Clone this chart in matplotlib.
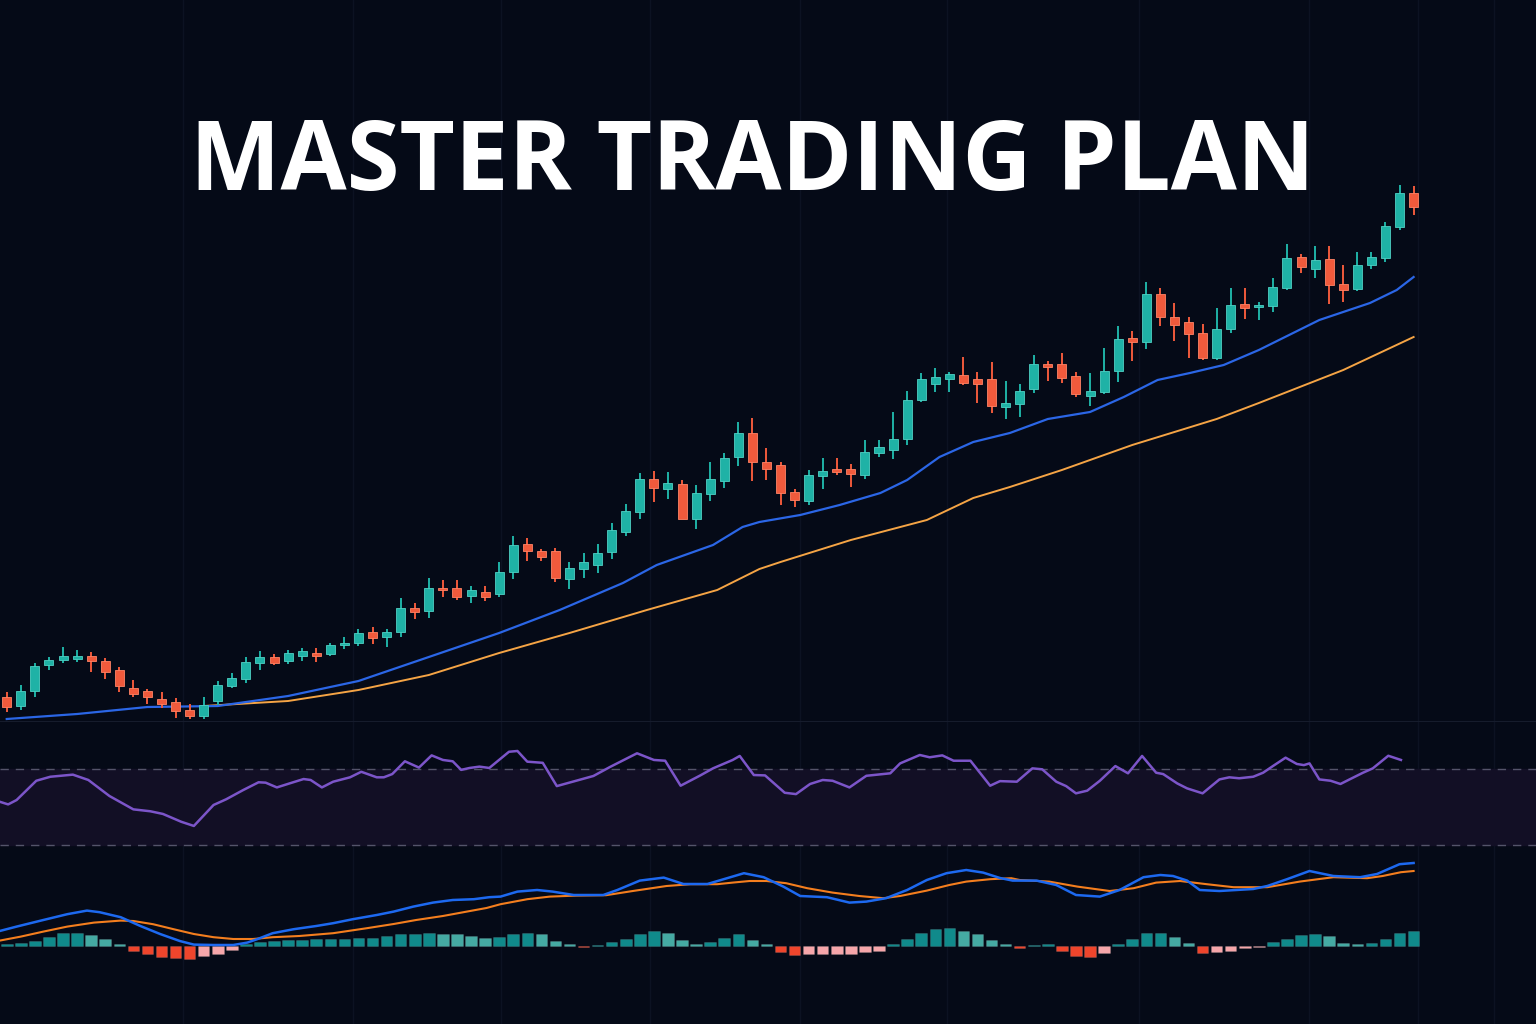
import numpy as np
import matplotlib.pyplot as plt

# ---- price candles (one per bar) ----
opens = [102.3, 101.4, 102.9, 105.5, 106.0, 106.1, 106.4, 105.9, 105.0, 103.2,
         102.9, 102.1, 101.8, 101.0, 100.4, 101.9, 103.4, 104.1, 105.7, 106.3,
         105.9, 106.4, 106.7, 106.6, 107.5, 107.7, 108.8, 108.3, 108.8, 111.2,
         110.9, 113.2, 113.2, 112.4, 112.8, 112.6, 114.8, 117.6, 116.9, 116.9,
         114.1, 115.1, 115.5, 116.8, 118.8, 120.8, 124.1, 123.1, 123.6, 120.1,
         122.6, 123.9, 126.3, 128.7, 125.8, 125.5, 122.8, 121.9, 124.4, 125.1,
         125.1, 124.5, 126.7, 127.0, 128.1, 132.0, 133.6, 134.1, 134.5, 134.1,
         134.1, 131.3, 131.6, 133.1, 135.6, 135.6, 134.4, 132.4, 132.8, 134.9,
         138.2, 137.8, 142.6, 140.3, 139.8, 138.7, 136.2, 139.1, 141.6, 141.3,
         141.4, 143.2, 146.3, 145.1, 146.1, 143.6, 143.1, 145.5, 146.2, 149.3,
         152.7]
highs = [102.8, 103.5, 105.7, 106.3, 107.3, 107.0, 106.8, 106.2, 105.3, 104.0,
         103.1, 102.8, 102.2, 101.6, 102.3, 103.9, 104.7, 106.3, 106.9, 106.6,
         107.0, 107.2, 107.2, 107.7, 108.3, 109.1, 109.3, 109.1, 112.2, 111.7,
         114.2, 114.0, 114.0, 113.4, 113.4, 115.8, 118.4, 118.2, 117.1, 117.2,
         115.8, 116.7, 117.6, 119.7, 121.6, 124.7, 124.9, 124.8, 124.0, 123.5,
         125.8, 126.7, 129.8, 130.2, 127.2, 125.8, 123.1, 125.0, 126.2, 126.2,
         125.6, 128.0, 128.0, 130.8, 132.9, 134.7, 135.2, 134.8, 136.3, 134.8,
         135.8, 133.9, 133.6, 136.5, 135.9, 136.7, 134.8, 134.7, 137.2, 139.4,
         138.9, 143.8, 143.2, 141.7, 140.3, 139.6, 141.2, 143.2, 143.2, 141.8,
         144.2, 147.6, 146.6, 147.4, 147.4, 145.5, 146.8, 146.8, 149.8, 153.5,
         153.4]
lows = [100.8, 101.0, 102.3, 105.0, 105.7, 105.8, 104.8, 104.1, 102.8, 102.3,
        101.6, 101.2, 100.2, 100.1, 100.1, 101.5, 103.2, 103.7, 105.0, 105.5,
        105.6, 105.9, 105.8, 106.4, 107.1, 107.4, 107.6, 107.3, 108.3, 110.1,
        110.2, 112.3, 112.0, 111.7, 111.9, 112.3, 114.1, 115.9, 115.9, 113.8,
        113.1, 114.2, 114.7, 116.1, 118.4, 120.1, 121.8, 122.1, 120.1, 119.1,
        121.9, 123.2, 125.4, 123.9, 124.0, 121.5, 121.3, 121.5, 123.1, 124.5,
        123.3, 124.1, 126.3, 126.1, 127.5, 131.8, 132.8, 132.8, 133.5, 131.7,
        130.7, 130.1, 130.3, 132.7, 133.9, 133.7, 132.3, 131.4, 132.6, 133.8,
        135.9, 137.1, 139.4, 137.9, 136.2, 136.0, 136.0, 138.7, 140.1, 140.0,
        140.8, 143.0, 144.7, 144.2, 141.6, 141.8, 142.9, 145.1, 145.8, 149.0,
        150.5]
closes = [101.3, 102.9, 105.4, 106.0, 106.4, 106.4, 105.9, 104.8, 103.4, 102.6,
          102.3, 101.6, 100.9, 100.4, 101.5, 103.5, 104.2, 105.8, 106.3, 105.7,
          106.7, 106.9, 106.4, 107.5, 107.7, 108.7, 108.2, 108.8, 111.2, 110.8,
          113.2, 113.0, 112.3, 113.0, 112.3, 114.8, 117.5, 116.9, 116.3, 114.2,
          115.2, 115.8, 116.7, 119.0, 120.9, 124.1, 123.2, 123.7, 120.1, 122.7,
          124.1, 126.2, 128.7, 125.8, 125.1, 122.7, 122.0, 124.5, 124.9, 124.8,
          124.6, 126.8, 127.3, 128.1, 132.0, 134.1, 134.3, 134.6, 133.7, 133.6,
          131.4, 131.7, 132.9, 135.6, 135.3, 134.2, 132.6, 132.9, 134.9, 138.1,
          137.8, 142.6, 140.3, 139.5, 138.6, 136.2, 139.1, 141.5, 141.2, 141.5,
          143.3, 146.2, 145.3, 146.0, 143.5, 143.0, 145.5, 146.3, 149.4, 152.7,
          151.3]

# ---- moving averages (bar position, value) ----
ma_fast_idx = [0, 5, 10, 15, 20, 25, 30, 35, 39.3, 43.8, 46.2, 50.2, 52.3, 53.5,
               56.4, 59.2, 62.1, 64.0, 66.3, 68.7, 71.3, 74.0, 77.0, 79.4, 81.8,
               84.1, 86.5, 89.0, 93.3, 96.9, 98.8, 100]
ma_fast = [100.1, 100.6, 101.3, 101.4, 102.4, 103.9, 106.3, 108.7, 111.0, 113.7,
           115.5, 117.5, 119.3, 119.8, 120.5, 121.5, 122.7, 124.0, 126.3, 127.8,
           128.7, 130.1, 130.8, 132.3, 134.0, 134.7, 135.5, 137.0, 140.0, 141.7,
           143.0, 144.3]
ma_slow_idx = [14, 20, 25, 30, 35, 40, 45.5, 50.5, 53.5, 55, 60, 65.4, 68.7, 71.3,
               75, 80, 86, 89, 95, 100]
ma_slow = [101.4, 101.9, 103.0, 104.5, 106.7, 108.7, 111.0, 113.0, 115.1, 115.8,
           118.0, 120.0, 122.2, 123.3, 125.0, 127.5, 130.1, 131.7, 135.0, 138.3]

# ---- RSI ----
rsi_idx = [-0.5, 0.1, 0.7, 2.1, 3.1, 4.7, 5.8, 7.3, 9.0, 10.2,
           11.1, 12.4, 13.3, 14.7, 15.6, 16.8, 17.9, 18.4, 19.2, 20.1,
           21.1, 21.6, 22.4, 23.2, 24.4, 25.2, 26.3, 26.8, 27.4, 28.3,
           29.3, 30.2, 31.0, 31.7, 32.3, 32.9, 33.6, 34.3, 35.7, 36.3,
           37.0, 38.1, 39.1, 41.7, 42.9, 44.8, 46.0, 46.8, 47.9, 49.3,
           50.2, 51.6, 52.1, 53.1, 53.9, 55.3, 56.1, 57.1, 58.0, 58.7,
           59.9, 61.1, 62.8, 63.5, 64.9, 65.6, 66.5, 67.3, 68.5, 69.9,
           70.6, 71.8, 72.9, 73.6, 74.6, 75.3, 76.0, 76.8, 77.7, 78.8,
           79.7, 80.7, 81.7, 82.2, 83.2, 83.9, 85.0, 86.2, 86.9, 87.6,
           88.6, 89.3, 90.0, 90.9, 91.7, 92.2, 92.6, 93.3, 94.1, 94.8,
           95.5, 96.4, 97.1, 98.2, 99.1]
rsi = [52.7, 51.3, 53.6, 63.7, 65.8, 66.9, 64.1, 55.7, 48.7, 47.7,
       46.3, 42.2, 40.0, 51.0, 54.0, 58.8, 62.9, 62.7, 60.2, 62.3,
       64.6, 64.1, 60.2, 63.2, 65.5, 68.4, 65.5, 65.5, 67.2, 73.9,
       70.6, 77.0, 74.6, 73.9, 69.4, 70.4, 71.1, 70.4, 78.9, 79.3,
       73.7, 73.1, 60.9, 66.2, 71.0, 78.1, 74.6, 74.2, 61.1, 66.5,
       70.2, 74.6, 76.7, 66.7, 66.5, 57.4, 56.7, 62.0, 64.1, 63.7,
       60.2, 66.3, 67.6, 72.8, 77.2, 76.0, 77.0, 74.2, 74.2, 61.1,
       63.5, 63.2, 70.2, 69.7, 63.2, 60.9, 57.1, 58.5, 63.7, 71.4,
       67.6, 76.7, 67.9, 67.2, 62.3, 59.7, 57.1, 64.4, 65.5, 65.0,
       65.8, 67.9, 71.4, 75.8, 72.5, 71.9, 72.8, 64.4, 63.7, 62.0,
       64.6, 67.9, 70.2, 76.8, 74.6]

# ---- MACD ----
macd_idx = [-0.5, 0.7, 2.6, 4.3, 5.7, 6.6, 8.1, 9.5, 10.9, 12.3,
            13.3, 14.7, 16.1, 17.1, 17.8, 18.9, 20.4, 22.0, 23.2, 24.6,
            26.3, 27.5, 28.9, 30.3, 31.7, 33.2, 34.3, 35.1, 36.3, 37.7,
            38.8, 40.3, 42.4, 43.4, 45.0, 46.7, 48.1, 49.8, 51.2, 52.4,
            53.8, 55.2, 56.4, 58.3, 59.9, 61.1, 62.5, 64.0, 65.4, 66.8,
            68.2, 69.4, 70.6, 71.5, 73.2, 74.6, 76.0, 77.7, 79.1, 80.8,
            82.0, 82.9, 83.9, 84.8, 86.2, 88.6, 89.6, 91.0, 92.6, 94.3,
            96.2, 97.4, 99.0, 100.0]
macd = [0.75, 0.97, 1.30, 1.59, 1.77, 1.69, 1.44, 1.00, 0.60, 0.25,
        0.07, 0.05, 0.05, 0.17, 0.34, 0.64, 0.84, 1.00, 1.14, 1.34,
        1.55, 1.72, 1.97, 2.17, 2.30, 2.34, 2.44, 2.47, 2.72, 2.80,
        2.72, 2.55, 2.55, 2.80, 3.27, 3.42, 3.10, 3.10, 3.39, 3.64,
        3.44, 2.97, 2.50, 2.44, 2.17, 2.22, 2.39, 2.80, 3.30, 3.64,
        3.80, 3.67, 3.40, 3.27, 3.27, 3.05, 2.55, 2.47, 2.80, 3.44,
        3.55, 3.50, 3.27, 2.80, 2.75, 2.85, 3.00, 3.34, 3.75, 3.50,
        3.44, 3.60, 4.09, 4.15]
signal_idx = [-0.5, 1.0, 2.6, 4.3, 6.2, 8.1, 9.0, 10.4, 11.8, 13.3,
              14.7, 16.1, 17.5, 18.9, 20.8, 23.2, 25.6, 27.5, 29.1, 31.0,
              32.7, 34.1, 35.1, 37.0, 38.6, 40.5, 42.6, 44.5, 46.9, 48.6,
              50.5, 51.6, 52.8, 54.0, 55.4, 56.9, 58.7, 60.6, 62.3, 63.5,
              65.4, 67.0, 68.2, 69.9, 71.4, 72.0, 74.1, 76.1, 78.4, 80.1,
              81.7, 83.4, 85.3, 87.2, 89.6, 91.9, 94.3, 96.7, 97.8, 99.1,
              100.0]
signal = [0.27, 0.47, 0.72, 0.97, 1.17, 1.27, 1.25, 1.09, 0.85, 0.60,
          0.44, 0.35, 0.35, 0.44, 0.50, 0.64, 0.89, 1.10, 1.30, 1.50,
          1.72, 1.90, 2.09, 2.34, 2.47, 2.52, 2.54, 2.75, 3.00, 3.09,
          3.09, 3.17, 3.25, 3.25, 3.14, 2.89, 2.67, 2.50, 2.39, 2.50,
          2.77, 3.05, 3.22, 3.34, 3.39, 3.30, 3.22, 2.97, 2.75, 2.89,
          3.17, 3.25, 3.09, 2.94, 2.94, 3.22, 3.44, 3.39, 3.50, 3.69,
          3.75]
hist = [0.10, 0.13, 0.27, 0.47, 0.63, 0.67, 0.53, 0.33, 0.10, -0.25,
        -0.42, -0.53, -0.58, -0.67, -0.48, -0.40, -0.20, 0.08, 0.22, 0.25,
        0.30, 0.30, 0.33, 0.37, 0.37, 0.38, 0.38, 0.50, 0.60, 0.60,
        0.65, 0.62, 0.60, 0.48, 0.38, 0.45, 0.60, 0.65, 0.58, 0.25,
        0.08, -0.05, 0.07, 0.18, 0.37, 0.60, 0.73, 0.65, 0.32, 0.12,
        0.18, 0.40, 0.58, 0.32, 0.08, -0.28, -0.45, -0.42, -0.42, -0.42,
        -0.42, -0.28, -0.25, 0.08, 0.33, 0.67, 0.87, 0.90, 0.75, 0.60,
        0.32, 0.10, -0.12, 0.07, 0.08, -0.23, -0.48, -0.53, -0.37, 0.10,
        0.35, 0.63, 0.67, 0.43, 0.13, -0.37, -0.32, -0.23, -0.12, -0.05,
        0.18, 0.35, 0.53, 0.58, 0.50, 0.15, 0.10, 0.13, 0.37, 0.65,
        0.75]

title = "MASTER TRADING PLAN"

BG = "#050a17"
UP = "#1fb2a6"
DOWN = "#f05a3c"
XLIM = (-0.48, 108.7)
GRID_X = [12.5, 24.6, 35.1, 45.7, 56.4, 66.8, 80.5, 92.6, 100.3, 105.7]

fig = plt.figure(figsize=(15.36, 10.24), dpi=100)
fig.patch.set_facecolor(BG)

H = 1024.0
ax = fig.add_axes([0, 1 - 722 / H, 1, 722 / H])
ax_rsi = fig.add_axes([0, 1 - 858 / H, 1, 136 / H])
ax_macd = fig.add_axes([0, 0, 1, 166 / H])

for a in (ax, ax_rsi, ax_macd):
    a.set_xlim(*XLIM)
    a.set_axis_off()
    for gx in GRID_X:
        a.axvline(gx, color="#0c1222", lw=1, zorder=0)

# price panel
o = np.array(opens)
c = np.array(closes)
hi = np.array(highs)
lo = np.array(lows)
x = np.arange(len(o))
up = c >= o
cols = np.where(up, UP, DOWN)
body = np.maximum(np.abs(c - o), 0.25)
bottom = np.minimum(o, c) - (body - np.abs(c - o)) / 2

ax.vlines(x, lo, hi, colors=cols, lw=1.4, zorder=3)
ax.bar(x, body, bottom=bottom, width=0.64, color=cols,
       edgecolor=np.where(up, "#4fd0c4", "#ff8466"), linewidth=0.6, zorder=4)
ax.plot(ma_slow_idx, ma_slow, color="#f5a445", lw=1.4, zorder=2)
ax.plot(ma_fast_idx, ma_fast, color="#2b66e6", lw=1.6, zorder=2)
ax.set_ylim(99.8, 172)
ax.axhline(99.8, color="#161c2c", lw=1.5)

# RSI panel
ax_rsi.set_ylim(23.2, 94.5)
ax_rsi.axhspan(30, 70, color="#120f25", zorder=0)
for lvl in (30, 70):
    ax_rsi.axhline(lvl, color="#54546a", lw=1, dashes=(6, 5), zorder=1)
ax_rsi.plot(rsi_idx, rsi, color="#7c55c9", lw=1.8, zorder=3)

# MACD panel
hv = np.array(hist)
prev = np.concatenate([[hv[0]], hv[:-1]])
hcols = np.where(hv >= 0,
                 np.where(hv >= prev, "#108a8b", "#45aaa3"),
                 np.where(hv < prev, "#ef452c", "#f6a6aa"))
ax_macd.bar(np.arange(len(hv)), hv, width=0.82, color=hcols,
            edgecolor="#ffffff22", linewidth=0.5, zorder=2)
ax_macd.plot(signal_idx, signal, color="#f47e1e", lw=1.5, zorder=3)
ax_macd.plot(macd_idx, macd, color="#1d69f0", lw=1.8, zorder=4)
ax_macd.set_ylim(-3.9, 4.4)

# title, sized so its width matches the reference banner
t = fig.text(0.49, 1 - 190 / H, title, ha="center", va="baseline", color="white",
             fontsize=80, fontweight="bold", family=["Open Sans", "DejaVu Sans"])
fig.canvas.draw()
w = t.get_window_extent().width
t.set_fontsize(80 * 1125 / w)

fig.savefig("out.png", dpi=100, facecolor=BG)
